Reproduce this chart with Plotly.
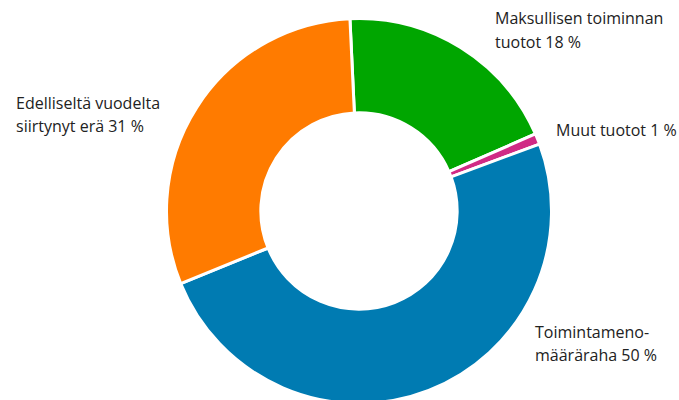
import plotly.graph_objects as go

# Data (order: clockwise from top)
categories = ["Maksullisen toiminnan tuotot", "Muut tuotot", "Toimintamenomääräraha", "Edelliseltä vuodelta siirtynyt erä"]
values = [19.2, 0.9, 49.5, 30.4]
colors = ["#00a600", "#d02a85", "#007bb2", "#ff7b00"]
label_lines = [
    ["Maksullisen toiminnan", "tuotot 18 %"],
    ["Muut tuotot 1 %"],
    ["Toimintameno-", "määräraha 50 %"],
    ["Edelliseltä vuodelta", "siirtynyt erä 31 %"],
]

W, H = 679, 406
# label anchor (left x, baseline y of first line) in pixels
label_pos = [(493, 24), (554, 135), (533, 337), (14, 108)]
line_gap = 23.5
fsize = 16

fig = go.Figure(go.Pie(
    labels=categories,
    values=values,
    marker=dict(colors=colors, line=dict(color="white", width=3)),
    hole=0.51,
    sort=False,
    direction="clockwise",
    rotation=-2.7,
    textinfo="none",
    hoverinfo="label+percent",
    showlegend=False,
    domain=dict(x=[166.5 / W, 551.5 / W], y=[(H - 403.5) / H, 1 - 18.5 / H]),
))

annotations = []
for (x0, y0), lines in zip(label_pos, label_lines):
    for i, line in enumerate(lines):
        yb = y0 + i * line_gap
        annotations.append(dict(
            x=x0 / W, y=1 - (yb - 5.5) / H, xref="paper", yref="paper",
            xanchor="left", yanchor="middle", showarrow=False,
            text=line, align="left",
            font=dict(family="Open Sans", size=fsize, color="#222222"),
        ))

fig.update_layout(
    width=W, height=H,
    margin=dict(l=0, r=0, t=0, b=0),
    paper_bgcolor="white", plot_bgcolor="white",
    annotations=annotations,
)

fig.write_html(
    "out.html",
    config={"displayModeBar": False},
    post_script="document.body.style.margin='0';document.body.style.overflow='hidden';",
)
